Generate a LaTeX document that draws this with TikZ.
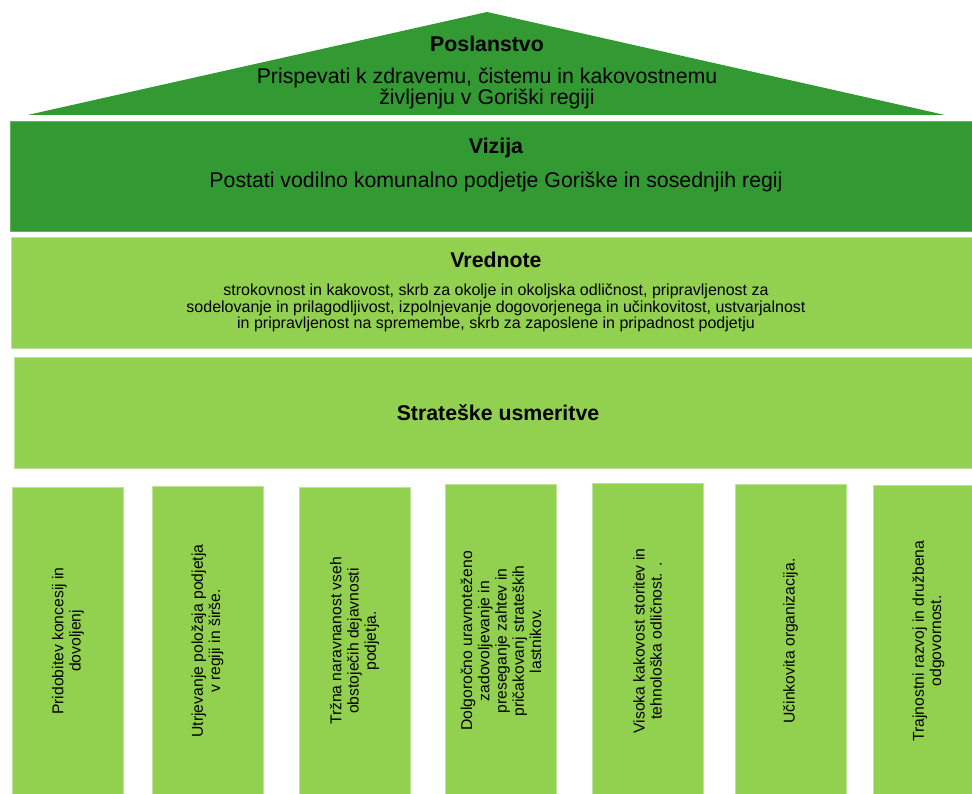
\documentclass[tikz,border=0pt]{standalone}
\usepackage{fontspec}
\setmainfont{Liberation Sans}
\definecolor{darkgr}{RGB}{51,153,51}
\definecolor{lightgr}{RGB}{146,208,80}
\tikzset{
  band/.style={rectangle, inner sep=0pt, outer sep=0pt, anchor=north west},
  darkband/.style={band, fill=darkgr, draw=darkgr!75!white, line width=0.6pt},
  lightband/.style={band, fill=lightgr, draw=lightgr!60!white, line width=0.6pt},
  pillar/.style={lightband, minimum width=111pt, minimum height=320pt},
  titletext/.style={font=\bfseries\fontsize{21.3}{24}\selectfont, anchor=base, inner sep=0pt},
  bodytext/.style={font=\fontsize{21.3}{20.5}\selectfont, align=center, inner sep=0pt},
  smalltext/.style={font=\fontsize{16}{16.5}\selectfont, align=center, inner sep=0pt},
  pillartext/.style={font=\fontsize{15.7}{17.2}\selectfont, align=center, inner sep=0pt, rotate=90},
}
\begin{document}
\begin{tikzpicture}[x=1pt,y=-1pt]
\useasboundingbox (0,0) rectangle (972,794);
% roof
\coordinate (roofL) at (27.5,115);
\coordinate (roofT) at (487,12);
\coordinate (roofR) at (945,115);
\fill[darkgr] (roofL) -- (roofT) -- (roofR) -- cycle;
\node[titletext] (poslT) at (487,52) {Poslanstvo};
\node[bodytext] (poslB) at (487,88.5) {Prispevati k zdravemu, čistemu in kakovostnemu\\življenju v Goriški regiji};
% vision
\node[darkband, minimum width=972pt, minimum height=110.5pt] (viz) at (10.5,121) {};
\node[titletext] (vizT) at (496,154) {Vizija};
\node[titletext, font=\fontsize{21.3}{24}\selectfont] (vizB) at (496,188) {Postati vodilno komunalno podjetje Goriške in sosednjih regij};
% values
\node[lightband, minimum width=972pt, minimum height=111pt] (vred) at (11,237) {};
\node[titletext] (vredT) at (496,268) {Vrednote};
\node[smalltext] (vredB) at (496,308.3) {strokovnost in kakovost, skrb za okolje in okoljska odličnost, pripravljenost za\\sodelovanje in prilagodljivost, izpolnjevanje dogovorjenega in učinkovitost, ustvarjalnost\\in pripravljenost na spremembe, skrb za zaposlene in pripadnost podjetju};
% strategic directions
\node[lightband, minimum width=970pt, minimum height=111pt] (strat) at (14,357) {};
\node[titletext] (stratT) at (498,420) {Strateške usmeritve};
% pillars
\node[pillar] (p1) at (12.5,487) {};
\node[pillar] (p2) at (152,486) {};
\node[pillar] (p3) at (299,487) {};
\node[pillar] (p4) at (445.5,484) {};
\node[pillar] (p5) at (592,483) {};
\node[pillar] (p6) at (735,484) {};
\node[pillar] (p7) at (873,485) {};
\node[pillartext] (t1) at (68,641) {Pridobitev koncesij in\\dovoljenj};
\node[pillartext] (t2) at (207.5,641) {Utrjevanje položaja podjetja\\v regiji in širše.};
\node[pillartext] (t3) at (354.5,641) {Tržna naravnanost vseh\\obstoječih dejavnosti\\podjetja.};
\node[pillartext] (t4) at (501,641) {Dolgoročno uravnoteženo\\zadovoljevanje in\\preseganje zahtev in\\pričakovanj strateških\\lastnikov.};
\node[pillartext] (t5) at (647.5,641) {Visoka kakovost storitev in\\tehnološka odličnost. .};
\node[pillartext] (t6) at (790.5,641) {Učinkovita organizacija.};
\node[pillartext] (t7) at (928.5,641) {Trajnostni razvoj in družbena\\odgovornost.};
\end{tikzpicture}
\end{document}
